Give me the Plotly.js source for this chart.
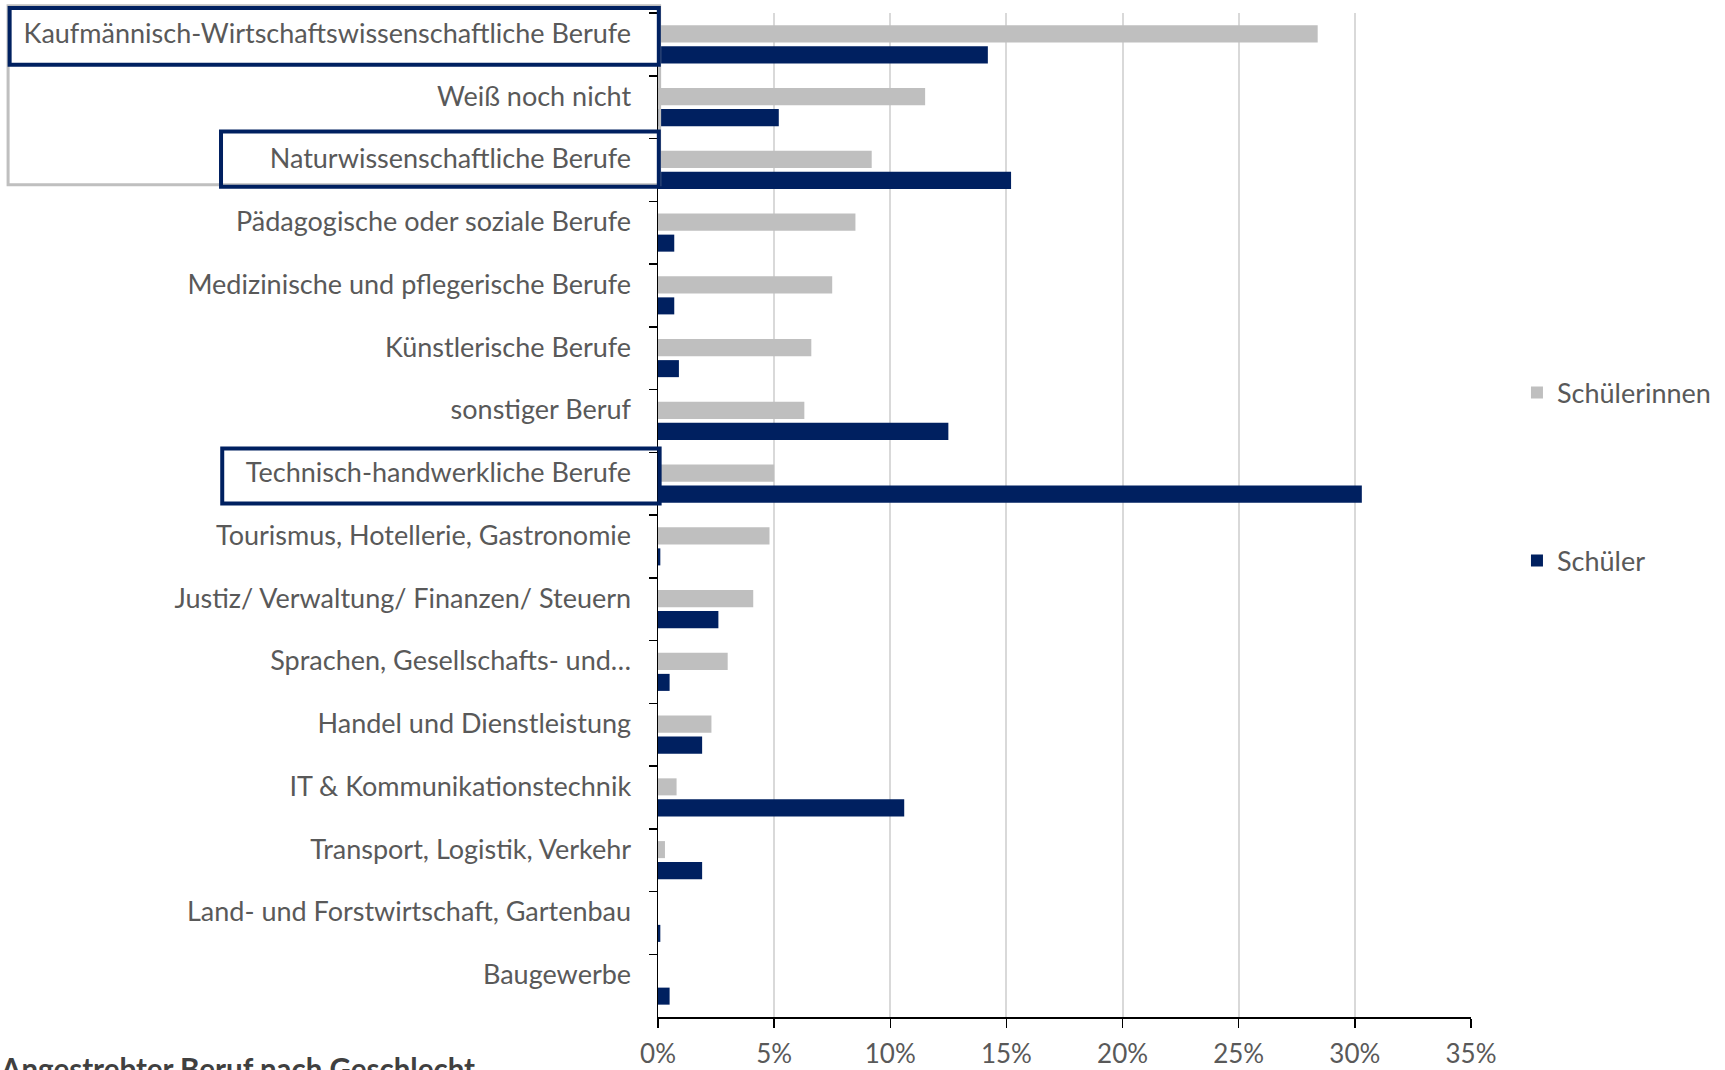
<!DOCTYPE html>
<html>
<head>
<meta charset="utf-8">
<script src="https://cdn.plot.ly/plotly-3.0.1.min.js"></script>
<style>html,body{margin:0;padding:0;background:#fff}#chart{width:1725px;height:1070px}</style>
</head>
<body>
<div id="chart"></div>
<script>
const categories = [
  "Kaufmännisch-Wirtschaftswissenschaftliche Berufe",
  "Weiß noch nicht",
  "Naturwissenschaftliche Berufe",
  "Pädagogische oder soziale Berufe",
  "Medizinische und pflegerische Berufe",
  "Künstlerische Berufe",
  "sonstiger Beruf",
  "Technisch-handwerkliche Berufe",
  "Tourismus, Hotellerie, Gastronomie",
  "Justiz/ Verwaltung/ Finanzen/ Steuern",
  "Sprachen, Gesellschafts- und…",
  "Handel und Dienstleistung",
  "IT & Kommunikationstechnik",
  "Transport, Logistik, Verkehr",
  "Land- und Forstwirtschaft, Gartenbau",
  "Baugewerbe"
];
const schuelerinnen = [28.4, 11.5, 9.2, 8.5, 7.5, 6.6, 6.3, 5.0, 4.8, 4.1, 3.0, 2.3, 0.8, 0.3, 0, 0];
const schueler      = [14.2, 5.2, 15.2, 0.7, 0.7, 0.9, 12.5, 30.3, 0.1, 2.6, 0.5, 1.9, 10.6, 1.9, 0.1, 0.5];
const xTicks = [0, 5, 10, 15, 20, 25, 30, 35];
const xTickLabels = ["0%", "5%", "10%", "15%", "20%", "25%", "30%", "35%"];
const seriesNames = ["Schülerinnen", "Schüler"];
const chartTitle = "Angestrebter Beruf nach Geschlecht";

const N = categories.length;
const FONT = "Lato, 'Open Sans', sans-serif";
const TXT = "#595959";
const FS = 27;
// convert category-index position to paper y (axis reversed: index 0 on top)
function yp(v) { return 1 - (v + 0.5) / N; }

const traces = [
  {type: "bar", orientation: "h", name: seriesNames[0], y: categories, x: schuelerinnen,
   marker: {color: "#bfbfbf", line: {width: 0}}, legend: "legend"},
  {type: "bar", orientation: "h", name: seriesNames[1], y: categories, x: schueler,
   marker: {color: "#002060", line: {width: 0}}, legend: "legend2"}
];

const layout = {
  width: 1725, height: 1070,
  margin: {l: 657.5, r: 253.5, t: 13.2, b: 52.5, pad: 0, autoexpand: false},
  paper_bgcolor: "#fff", plot_bgcolor: "#fff",
  font: {family: FONT, size: FS, color: TXT},
  barmode: "group", bargap: 0.33, bargroupgap: 0.19,
  xaxis: {
    range: [0, 35], tickmode: "array", tickvals: xTicks, ticktext: xTickLabels,
    showgrid: true, gridcolor: "#d9d9d9", gridwidth: 2,
    showline: true, linecolor: "#000", linewidth: 1.5,
    ticks: "outside", ticklen: 9, tickcolor: "#000", tickwidth: 1.5,
    ticklabelstandoff: 4, zeroline: false, fixedrange: true, automargin: false,
    tickfont: {family: FONT, size: 26, color: TXT}
  },
  yaxis: {
    type: "category", autorange: "reversed", automargin: false,
    showline: true, linecolor: "#000", linewidth: 1.5,
    ticks: "outside", tickson: "boundaries", ticklen: 8, tickcolor: "#000", tickwidth: 1.5,
    ticklabelstandoff: 20, ticklabelshift: 11, showgrid: false, zeroline: false,
    tickfont: {family: FONT, size: FS, color: TXT}
  },
  showlegend: true,
  legend: {xref: "container", yref: "container", x: 0.8794, xanchor: "left", y: 0.6327, yanchor: "middle",
           bgcolor: "rgba(0,0,0,0)", font: {family: FONT, size: FS, color: TXT}},
  legend2: {xref: "container", yref: "container", x: 0.8794, xanchor: "left", y: 0.4757, yanchor: "middle",
           bgcolor: "rgba(0,0,0,0)", font: {family: FONT, size: FS, color: TXT}},
  shapes: [
    {type: "rect", xref: "paper", yref: "paper", x0: -0.7994, x1: 0.002, y0: yp(-0.615), y1: yp(2.236),
     line: {color: "#bfbfbf", width: 3}, layer: "above"},
    {type: "rect", xref: "paper", yref: "paper", x0: -0.7975, x1: 0.001, y0: yp(-0.58), y1: yp(0.325),
     line: {color: "#002060", width: 4}, layer: "above"},
    {type: "rect", xref: "paper", yref: "paper", x0: -0.5375, x1: 0.001, y0: yp(1.39), y1: yp(2.27),
     line: {color: "#002060", width: 4}, layer: "above"},
    {type: "rect", xref: "paper", yref: "paper", x0: -0.536, x1: 0.002, y0: yp(6.44), y1: yp(7.315),
     line: {color: "#002060", width: 4}, layer: "above"}
  ],
  annotations: [
    {text: "<b>" + chartTitle + "</b>", xref: "paper", yref: "paper", x: -0.8120, y: -0.032,
     xanchor: "left", yanchor: "top", showarrow: false,
     font: {family: FONT, size: 29.5, color: "#404040"}}
  ]
};

Plotly.newPlot("chart", traces, layout, {displayModeBar: false, staticPlot: true});
</script>
</body>
</html>
